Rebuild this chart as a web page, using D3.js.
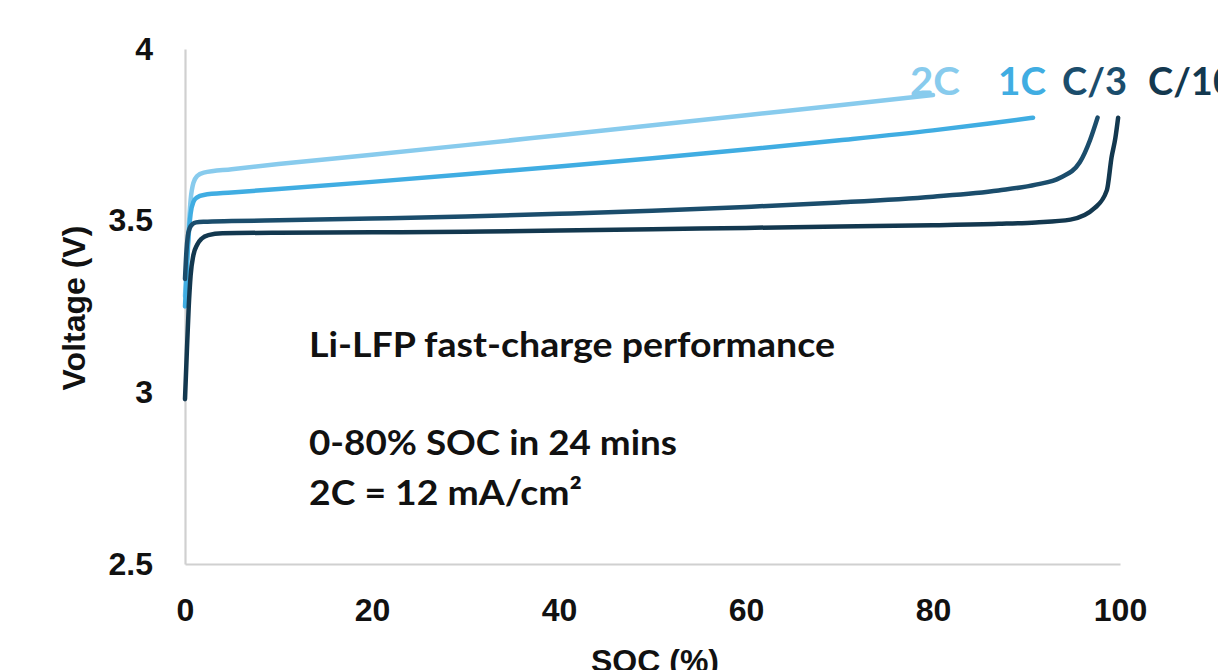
<!DOCTYPE html>
<html>
<head>
<meta charset="utf-8">
<script src="https://cdn.jsdelivr.net/npm/d3@7"></script>
<style>
  html, body { margin: 0; padding: 0; background: #ffffff; }
  svg { display: block; }
</style>
</head>
<body>
<svg id="chart" width="1218" height="670"></svg>
<script>
// ---- data ----
const seriesNames = ["2C", "1C", "C/3", "C/10"];

const soc2C = [0, 0.2, 0.4, 0.6, 0.9, 1.3, 2, 5, 10, 20, 30, 40, 50, 60, 70, 80];
const v2C   = [3.28, 3.38, 3.48, 3.56, 3.61, 3.63, 3.64, 3.65, 3.665, 3.692, 3.72, 3.749, 3.778, 3.807, 3.836, 3.866];

const soc1C = [0, 0.2, 0.4, 0.6, 0.9, 1.3, 2, 5, 10, 20, 30, 40, 50, 60, 70, 80, 86, 90.7];
const v1C   = [3.25, 3.36, 3.46, 3.52, 3.555, 3.568, 3.575, 3.582, 3.592, 3.613, 3.635, 3.658, 3.682, 3.707, 3.734, 3.763, 3.783, 3.80];

const socC3 = [0, 0.15, 0.3, 0.5, 0.8, 1.2, 2, 5, 10, 20, 30, 40, 50, 60, 70, 80, 87, 91, 93.6, 95.7, 96.8, 97.6];
const vC3   = [3.33, 3.41, 3.455, 3.478, 3.49, 3.495, 3.497, 3.499, 3.501, 3.506, 3.512, 3.52, 3.529, 3.54, 3.553, 3.57, 3.588, 3.605, 3.625, 3.67, 3.735, 3.80];

const socC10 = [0, 0.2, 0.4, 0.6, 0.9, 1.3, 1.8, 2.5, 4, 10, 20, 30, 40, 50, 60, 70, 80, 87, 91, 94.7, 97.3, 98.6, 99.1, 99.5, 99.8];
const vC10   = [2.98, 3.12, 3.25, 3.34, 3.40, 3.43, 3.448, 3.458, 3.463, 3.465, 3.466, 3.468, 3.471, 3.475, 3.479, 3.483, 3.487, 3.491, 3.495, 3.503, 3.537, 3.589, 3.685, 3.74, 3.80];

const xTicks = [0, 20, 40, 60, 80, 100];
const yTicks = [2.5, 3, 3.5, 4];

const noteLines = ["Li-LFP fast-charge performance", "0-80% SOC in 24 mins", "2C = 12 mA/cm\u00B2"];

// ---- styles ----
const colors = {"2C": "#88cbed", "1C": "#40ade2", "C/3": "#1b4d6c", "C/10": "#13384f"};

const svg = d3.select("#chart");
svg.append("rect").attr("width", 1218).attr("height", 670).attr("fill", "#fff");

const x = d3.scaleLinear().domain([0, 100]).range([185, 1120]);
const y = d3.scaleLinear().domain([2.5, 4]).range([564, 49]);

const axisFont = "'Liberation Sans', Arial, sans-serif";
const noteFont = "Lato, 'Open Sans', sans-serif";

// axes
const yAxis = svg.append("g").attr("transform", `translate(${x(0)},0)`)
  .call(d3.axisLeft(y).tickValues(yTicks).tickSize(0).tickSizeOuter(0).tickPadding(32).tickFormat(d3.format("")));
const xAxis = svg.append("g").attr("transform", `translate(0,${y(2.5)})`)
  .call(d3.axisBottom(x).tickValues(xTicks).tickSize(0).tickSizeOuter(0).tickPadding(34).tickFormat(d3.format("")));

[yAxis, xAxis].forEach(g => {
  g.select(".domain").attr("stroke", "#d0d0d0").attr("stroke-width", 2.2);
  g.selectAll("text").attr("font-family", axisFont).attr("font-weight", "bold")
    .attr("font-size", 32).attr("fill", "#111");
});

// axis titles
svg.append("text").attr("transform", "translate(85,308) rotate(-90)")
  .attr("text-anchor", "middle").attr("font-family", axisFont).attr("font-weight", "bold")
  .attr("font-size", 32).attr("fill", "#111").text("Voltage (V)");
svg.append("text").attr("x", 655).attr("y", 672)
  .attr("text-anchor", "middle").attr("font-family", axisFont).attr("font-weight", "bold")
  .attr("font-size", 32).attr("fill", "#111").text("SOC (%)");

// curves
const series = [
  {name: "2C", soc: soc2C, v: v2C},
  {name: "1C", soc: soc1C, v: v1C},
  {name: "C/3", soc: socC3, v: vC3},
  {name: "C/10", soc: socC10, v: vC10}
];
const line = d3.line().x(d => x(d[0])).y(d => y(d[1])).curve(d3.curveMonotoneX);
svg.append("g").selectAll("path").data(series).join("path")
  .attr("d", s => line(s.soc.map((d, i) => [d, s.v[i]])))
  .attr("fill", "none")
  .attr("stroke", s => colors[s.name])
  .attr("stroke-width", 4.5)
  .attr("stroke-linecap", "round")
  .attr("stroke-linejoin", "round");

// series labels
const labelPos = [
  {name: "2C", x: 910, w: 50},
  {name: "1C", x: 998, w: 48},
  {name: "C/3", x: 1062, w: 65},
  {name: "C/10", x: 1148, w: null}
];
labelPos.forEach(l => {
  const t = svg.append("text").attr("x", l.x).attr("y", 95)
    .attr("font-family", noteFont).attr("font-weight", 700).attr("font-size", 38)
    .attr("fill", colors[l.name]).text(l.name);
  if (l.w) t.attr("textLength", l.w).attr("lengthAdjust", "spacingAndGlyphs");
});

// annotation
const notePos = [
  {y: 357, w: 526},
  {y: 455, w: 368},
  {y: 505, w: 273}
];
noteLines.forEach((txt, i) => {
  svg.append("text").attr("x", 309).attr("y", notePos[i].y)
    .attr("font-family", noteFont).attr("font-weight", 700).attr("font-size", 34)
    .attr("fill", "#111")
    .attr("textLength", notePos[i].w).attr("lengthAdjust", "spacingAndGlyphs")
    .text(txt);
});
</script>
</body>
</html>
